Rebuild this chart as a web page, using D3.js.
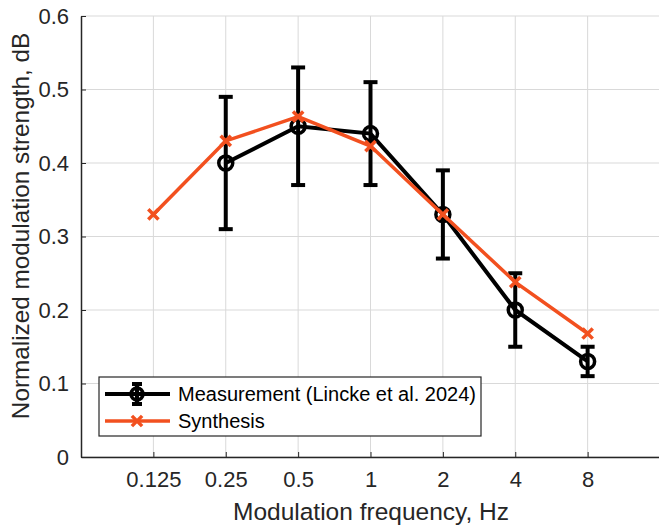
<!DOCTYPE html>
<html>
<head>
<meta charset="utf-8">
<script src="https://cdn.jsdelivr.net/npm/d3@7"></script>
<style>
  body { margin: 0; background: #fff; }
  text { font-family: "Liberation Sans", Arial, sans-serif; }
</style>
</head>
<body>
<div id="chart"></div>
<script>
// data
const freqTicks = [0.125, 0.25, 0.5, 1, 2, 4, 8];
const freqTickLabels = ["0.125", "0.25", "0.5", "1", "2", "4", "8"];
const yTicks = [0, 0.1, 0.2, 0.3, 0.4, 0.5, 0.6];

const measFreq = [0.25, 0.5, 1, 2, 4, 8];
const measMean = [0.40, 0.45, 0.44, 0.33, 0.20, 0.13];
const measLow = [0.31, 0.37, 0.37, 0.27, 0.15, 0.11];
const measHigh = [0.49, 0.53, 0.51, 0.39, 0.25, 0.15];

const synthFreq = [0.125, 0.25, 0.5, 1, 2, 4, 8];
const synthVal = [0.33, 0.43, 0.463, 0.423, 0.33, 0.238, 0.168];

const W = 659, H = 525;
const mLeft = 81, mTop = 16, mRight = 660, mBottom = 457;
const orange = "#f2501f";

const svg = d3.select("#chart").append("svg")
    .attr("width", W)
    .attr("height", H);

const x = d3.scaleLog().base(2).domain([1 / 16, 16]).range([mLeft, mRight]);
const y = d3.scaleLinear().domain([0, 0.6]).range([mBottom, mTop]);

// grid
const grid = svg.append("g").attr("stroke", "#d9d9d9").attr("stroke-width", 1);
freqTicks.forEach(f => {
    grid.append("line")
        .attr("x1", x(f)).attr("x2", x(f))
        .attr("y1", mTop).attr("y2", mBottom);
});
yTicks.forEach(v => {
    grid.append("line")
        .attr("x1", mLeft).attr("x2", mRight)
        .attr("y1", y(v)).attr("y2", y(v));
});

// axes (ticks pointing inward)
const xAxis = d3.axisBottom(x)
    .tickValues(freqTicks)
    .tickFormat((d, i) => freqTickLabels[i])
    .tickSizeInner(-5)
    .tickSizeOuter(0)
    .tickPadding(14);
const gx = svg.append("g")
    .attr("transform", `translate(0,${mBottom})`)
    .call(xAxis);
gx.select(".domain").attr("stroke", "#262626").attr("stroke-width", 1.5);
gx.selectAll(".tick line").attr("stroke", "#262626");
gx.selectAll("text").attr("font-size", 22).attr("fill", "#262626");

const yAxis = d3.axisLeft(y)
    .tickValues(yTicks)
    .tickFormat(d => d === 0 ? "0" : d3.format(".1f")(d))
    .tickSizeInner(-5)
    .tickSizeOuter(0)
    .tickPadding(12);
const gy = svg.append("g")
    .attr("transform", `translate(${mLeft},0)`)
    .call(yAxis);
gy.select(".domain").attr("stroke", "#262626").attr("stroke-width", 1.5);
gy.selectAll(".tick line").attr("stroke", "#262626");
gy.selectAll("text").attr("font-size", 22).attr("fill", "#262626");

// axis labels
svg.append("text")
    .attr("x", 371)
    .attr("y", 520)
    .attr("text-anchor", "middle")
    .attr("font-size", 24.5)
    .attr("fill", "#262626")
    .text("Modulation frequency, Hz");

svg.append("text")
    .attr("transform", `translate(29,226) rotate(-90)`)
    .attr("text-anchor", "middle")
    .attr("font-size", 24.3)
    .attr("fill", "#262626")
    .text("Normalized modulation strength, dB");

// measurement
const meas = measFreq.map((f, i) => ({ f, m: measMean[i], lo: measLow[i], hi: measHigh[i] }));
const line = d3.line().x(d => x(d.f)).y(d => y(d.m));

svg.append("path")
    .datum(meas)
    .attr("fill", "none")
    .attr("stroke", "#000")
    .attr("stroke-width", 4)
    .attr("d", line);

const eb = svg.append("g").attr("stroke", "#000").attr("stroke-width", 4);
meas.forEach(d => {
    eb.append("line").attr("x1", x(d.f)).attr("x2", x(d.f)).attr("y1", y(d.lo)).attr("y2", y(d.hi));
    eb.append("line").attr("x1", x(d.f) - 7).attr("x2", x(d.f) + 7).attr("y1", y(d.lo)).attr("y2", y(d.lo));
    eb.append("line").attr("x1", x(d.f) - 7).attr("x2", x(d.f) + 7).attr("y1", y(d.hi)).attr("y2", y(d.hi));
});
svg.append("g").selectAll("circle")
    .data(meas)
    .join("circle")
    .attr("cx", d => x(d.f))
    .attr("cy", d => y(d.m))
    .attr("r", 7)
    .attr("fill", "none")
    .attr("stroke", "#000")
    .attr("stroke-width", 3.5);

// synthesis
const synth = synthFreq.map((f, i) => ({ f, v: synthVal[i] }));
svg.append("path")
    .datum(synth)
    .attr("fill", "none")
    .attr("stroke", orange)
    .attr("stroke-width", 3.5)
    .attr("d", d3.line().x(d => x(d.f)).y(d => y(d.v)));

const cross = d3.symbol().type(d3.symbolX).size(70);
svg.append("g").selectAll("path")
    .data(synth)
    .join("path")
    .attr("transform", d => `translate(${x(d.f)},${y(d.v)})`)
    .attr("d", cross)
    .attr("fill", "none")
    .attr("stroke", orange)
    .attr("stroke-width", 3.5);

// legend
const lg = svg.append("g").attr("transform", "translate(99,377)");
lg.append("rect")
    .attr("width", 382).attr("height", 59)
    .attr("fill", "#fff")
    .attr("stroke", "#262626")
    .attr("stroke-width", 1.2);

const r1 = 17, r2 = 44;
lg.append("line").attr("x1", 6).attr("x2", 71).attr("y1", r1).attr("y2", r1)
    .attr("stroke", "#000").attr("stroke-width", 4);
lg.append("line").attr("x1", 38).attr("x2", 38).attr("y1", r1 - 10).attr("y2", r1 + 10)
    .attr("stroke", "#000").attr("stroke-width", 4);
lg.append("line").attr("x1", 33).attr("x2", 43).attr("y1", r1 - 10).attr("y2", r1 - 10)
    .attr("stroke", "#000").attr("stroke-width", 4);
lg.append("line").attr("x1", 33).attr("x2", 43).attr("y1", r1 + 10).attr("y2", r1 + 10)
    .attr("stroke", "#000").attr("stroke-width", 4);
lg.append("circle").attr("cx", 38).attr("cy", r1).attr("r", 6)
    .attr("fill", "none").attr("stroke", "#000").attr("stroke-width", 3.5);
lg.append("text").attr("x", 79).attr("y", r1 + 7).attr("font-size", 20).attr("fill", "#000")
    .text("Measurement (Lincke et al. 2024)");

lg.append("line").attr("x1", 6).attr("x2", 71).attr("y1", r2).attr("y2", r2)
    .attr("stroke", orange).attr("stroke-width", 3.5);
lg.append("path").attr("transform", `translate(38,${r2})`).attr("d", cross)
    .attr("fill", "none").attr("stroke", orange).attr("stroke-width", 3.5);
lg.append("text").attr("x", 79).attr("y", r2 + 7).attr("font-size", 20).attr("fill", "#000")
    .text("Synthesis");
</script>
</body>
</html>
